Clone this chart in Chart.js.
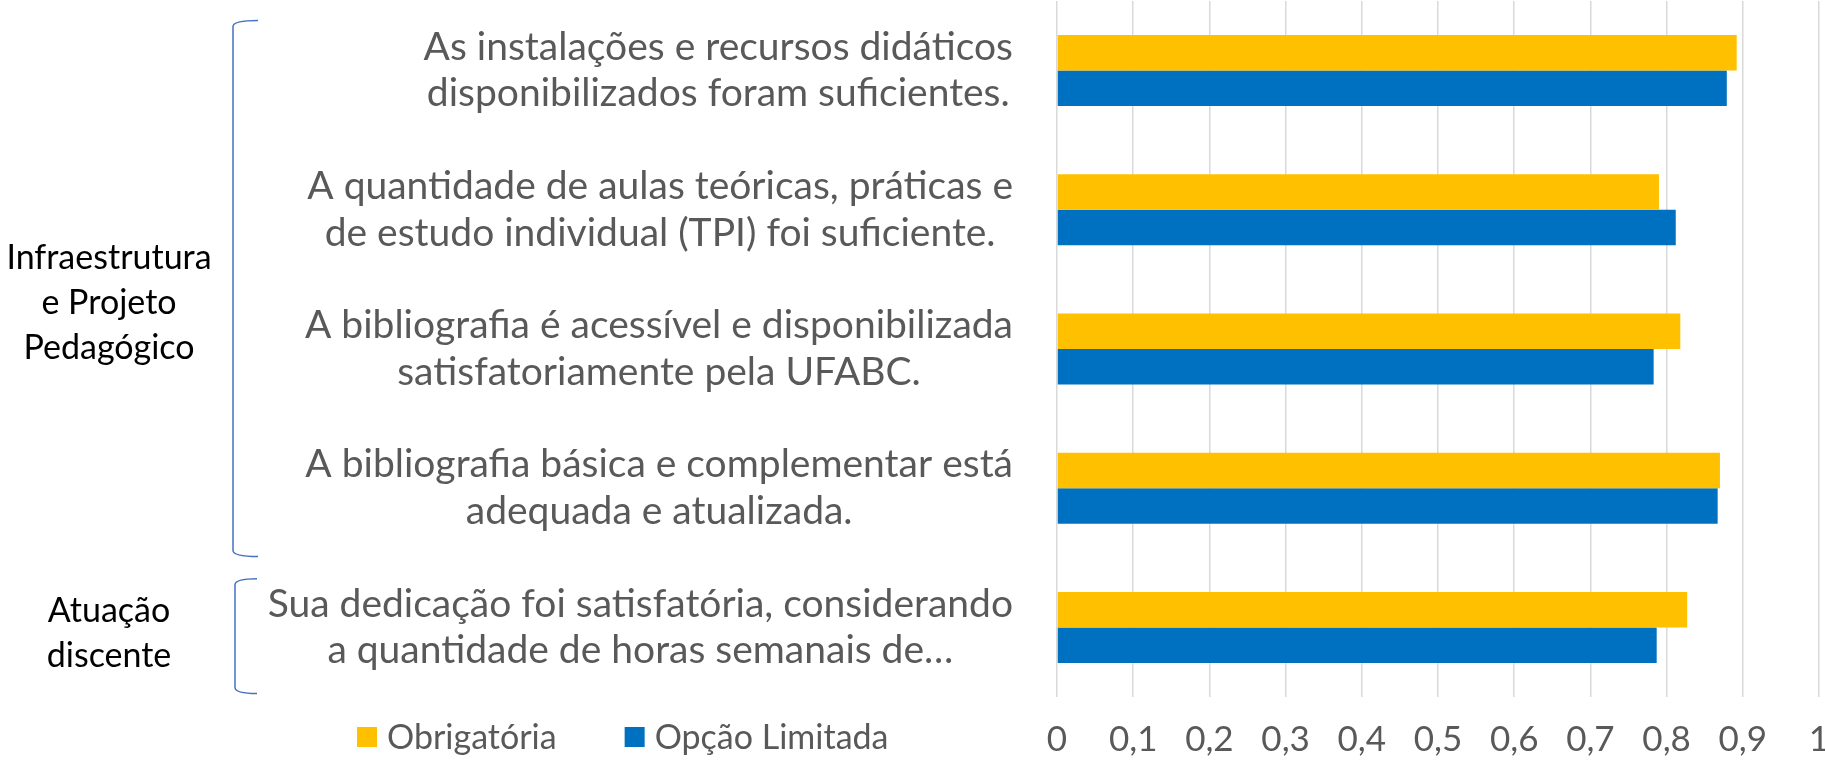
<!DOCTYPE html>
<html><head><meta charset="utf-8">
<script src="https://cdn.jsdelivr.net/npm/chart.js@4/dist/chart.umd.min.js"></script>
<style>html,body{margin:0;padding:0;background:#fff;}#wrap{width:1825px;height:764px;}</style>
</head><body><div id="wrap"><canvas id="c" width="1825" height="764"></canvas></div>
<script>
const categories = [
  ['As instalações e recursos didáticos', 'disponibilizados foram suficientes.'],
  ['A quantidade de aulas teóricas, práticas e', 'de estudo individual (TPI) foi suficiente.'],
  ['A bibliografia é acessível e disponibilizada', 'satisfatoriamente pela UFABC.'],
  ['A bibliografia básica e complementar está', 'adequada e atualizada.'],
  ['Sua dedicação foi satisfatória, considerando', 'a quantidade de horas semanais de…']
];
const seriesNames = ['Obrigatória', 'Opção Limitada'];
const obrigatoria = [0.892, 0.790, 0.818, 0.870, 0.827];
const opcaoLimitada = [0.879, 0.812, 0.783, 0.867, 0.787];
const tickLabels = ['0', '0,1', '0,2', '0,3', '0,4', '0,5', '0,6', '0,7', '0,8', '0,9', '1'];
const groupLabels = [['Infraestrutura', 'e Projeto', 'Pedagógico'], ['Atuação', 'discente']];
const groupRanges = [[0, 3], [4, 4]];

const FONT = 'Lato';
const GRAY = '#595959';

const decor = {
  id: 'decor',
  afterDraw(chart) {
    const ctx = chart.ctx;
    const y = chart.scales.y;
    const area = chart.chartArea;
    const half = (y.getPixelForValue(1) - y.getPixelForValue(0)) / 2;
    ctx.save();
    ctx.font = '39px ' + FONT;
    ctx.fillStyle = GRAY;
    ctx.textBaseline = 'middle';
    ctx.textAlign = 'center';
    const right = area.left - 44;
    const lh = 46.6;
    categories.forEach((lines, i) => {
      const yc = y.getPixelForValue(i);
      const w = Math.max(...lines.map(l => ctx.measureText(l).width));
      const cx = right - w / 2;
      lines.forEach((l, j) => ctx.fillText(l, cx, yc + (j - (lines.length - 1) / 2) * lh));
    });
    ctx.strokeStyle = '#4472C4';
    ctx.lineWidth = 1.5;
    groupRanges.forEach((r, gi) => {
      const top = y.getPixelForValue(r[0]) - (gi === 0 ? 0.72 : 0.70) * half;
      const bot = y.getPixelForValue(r[1]) + (gi === 0 ? 0.98 : 0.95) * half;
      const bx = gi === 0 ? 233 : 235;
      const hx = gi === 0 ? 258 : 257;
      ctx.beginPath();
      ctx.moveTo(hx, top);
      ctx.quadraticCurveTo(bx, top, bx, top + 6);
      ctx.lineTo(bx, bot - 6);
      ctx.quadraticCurveTo(bx, bot, hx, bot);
      ctx.stroke();
      const lines = groupLabels[gi];
      ctx.font = '34px ' + FONT;
      ctx.fillStyle = '#000';
      const cy = (top + bot) / 2 + (gi === 0 ? 15 : -3);
      const glh = 45;
      lines.forEach((l, j) => ctx.fillText(l, 109, cy + (j - (lines.length - 1) / 2) * glh));
    });
    ctx.font = '34px ' + FONT;
    ctx.textAlign = 'left';
    let lx = 357;
    const ly = 737;
    chart.data.datasets.forEach(ds => {
      ctx.fillStyle = ds.backgroundColor;
      ctx.fillRect(lx, ly - 10, 20, 20);
      ctx.fillStyle = GRAY;
      ctx.fillText(ds.label, lx + 30, ly + 1);
      lx += 30 + ctx.measureText(ds.label).width + 68;
    });
    ctx.restore();
  }
};

new Chart(document.getElementById('c'), {
  type: 'bar',
  data: {
    labels: categories.map(c => c.join(' ')),
    datasets: [
      { label: seriesNames[0], data: obrigatoria, backgroundColor: '#FFC000', categoryPercentage: 0.51, barPercentage: 1 },
      { label: seriesNames[1], data: opcaoLimitada, backgroundColor: '#0070C0', categoryPercentage: 0.51, barPercentage: 1 }
    ]
  },
  options: {
    indexAxis: 'y',
    responsive: false,
    animation: false,
    layout: { padding: { left: 1057, right: 6, top: 1, bottom: 4 } },
    plugins: { legend: { display: false }, tooltip: { enabled: false } },
    scales: {
      x: {
        min: 0, max: 1,
        ticks: { stepSize: 0.1, autoSkip: false, maxRotation: 0, padding: 22,
          callback: (v, i) => tickLabels[i], color: GRAY, font: { family: FONT, size: 35 } },
        grid: { color: '#D9D9D9', lineWidth: 1.5, drawTicks: false },
        border: { display: false },
        afterFit(s) { s.paddingRight = 0; s.paddingLeft = 0; s.height = 63; }
      },
      y: { display: false }
    }
  },
  plugins: [decor]
});
</script></body></html>
